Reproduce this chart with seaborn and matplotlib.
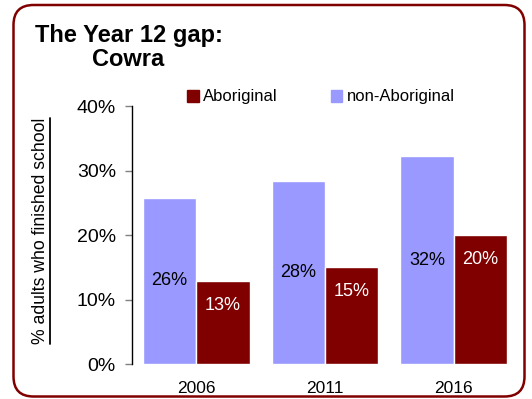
import pandas as pd
import matplotlib.pyplot as plt
import seaborn as sns
from matplotlib.patches import FancyBboxPatch
from matplotlib.lines import Line2D

# Values (% adults who finished Year 12, Cowra)
years = ['2006', '2011', '2016']
aboriginal = [12.9, 15.0, 20.0]
non_aboriginal = [25.8, 28.4, 32.2]
groups = ['non-Aboriginal', 'Aboriginal']
y_ticks = [0, 10, 20, 30, 40]

df = pd.DataFrame({
    'year': years * 2,
    'group': ['non-Aboriginal'] * 3 + ['Aboriginal'] * 3,
    'value': non_aboriginal + aboriginal,
})

sns.set_theme(style='white')
plt.rcParams['font.family'] = ['Liberation Sans', 'DejaVu Sans']
plt.rcParams['text.color'] = 'black'
plt.rcParams['xtick.color'] = 'black'
plt.rcParams['ytick.color'] = 'black'

fig = plt.figure(figsize=(5.32, 3.99), dpi=100)
ax = fig.add_axes([0.248, 0.0877, 0.726, 0.6466])

palette = {'non-Aboriginal': '#9999FF', 'Aboriginal': '#800000'}
sns.barplot(data=df, x='year', y='value', hue='group', hue_order=groups,
            palette=palette, width=0.83, saturation=1, ax=ax, legend=False)

ax.set_ylim(0, 40)
ax.set_xlim(-0.5, 2.5)
ax.set_yticks(y_ticks)
ax.set_yticklabels([f'{t}%' for t in y_ticks], fontsize=14)
ax.tick_params(axis='y', which='both', left=True, length=5, width=1, color='#808080', pad=6.5)
ax.tick_params(axis='x', labelsize=12.5, bottom=False, pad=6.5)
ax.set_xlabel('')
ax.set_ylabel('')
for s in ['top', 'right', 'bottom']:
    ax.spines[s].set_visible(False)
ax.spines['left'].set_color('black')
ax.spines['left'].set_linewidth(1)

# bar labels: non-Aboriginal centred, Aboriginal near top
for i, (na, ab) in enumerate(zip(non_aboriginal, aboriginal)):
    ax.text(i - 0.2075, na / 2, f'{round(na)}%', ha='center', va='center',
            fontsize=13, color='black')
    ax.text(i + 0.2075, ab - 3.8, f'{round(ab)}%', ha='center', va='center',
            fontsize=13, color='white')

# y label with underline
ylab = fig.text(40.5 / 532, 1 - 231 / 399, '% adults who finished school', rotation=90,
                ha='center', va='center', fontsize=12.7)
fig.canvas.draw()
bb = ylab.get_window_extent(fig.canvas.get_renderer()).transformed(fig.transFigure.inverted())
fig.add_artist(Line2D([50 / 532, 50 / 532], [bb.y0, bb.y1], color='black', lw=1.3,
                      transform=fig.transFigure))

# legend (Aboriginal listed first)
handles = [plt.Rectangle((0, 0), 1, 1, color=palette['Aboriginal']),
           plt.Rectangle((0, 0), 1, 1, color=palette['non-Aboriginal'])]
fig.legend(handles, ['Aboriginal', 'non-Aboriginal'], loc='center left',
           bbox_to_anchor=(187 / 532, 1 - 97 / 399), ncol=2, frameon=False,
           fontsize=12, handlelength=0.7, handleheight=0.7, handletextpad=0.25,
           columnspacing=3.2, borderpad=0, borderaxespad=0)

# title
fig.text(128.5 / 532, 1 - 24 / 399, 'The Year 12 gap:\nCowra', ha='center', va='top',
         multialignment='center', fontsize=17, fontweight='bold', linespacing=1.05)

# rounded border
border = FancyBboxPatch((0.135, 0.025), 5.11, 3.915, boxstyle='round,pad=0,rounding_size=0.2',
                        transform=fig.dpi_scale_trans, fill=False, edgecolor='#800000', lw=1.8)
fig.add_artist(border)

fig.savefig('out.png', dpi=100)
